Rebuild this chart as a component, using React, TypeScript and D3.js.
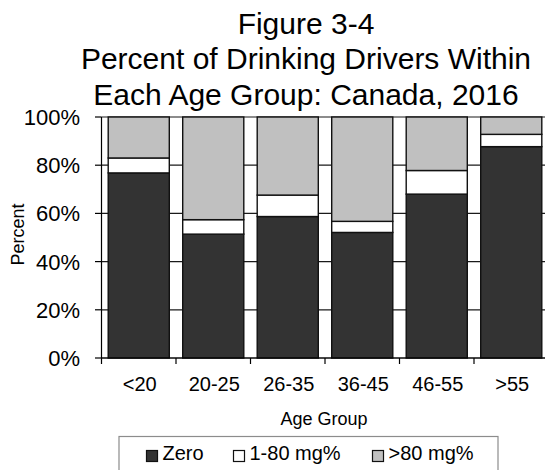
import React from "react";
import * as d3 from "d3";

const categories = ["<20", "20-25", "26-35", "36-45", "46-55", ">55"];
const zeroValues = [76.8, 51.4, 58.7, 52.1, 68.0, 87.7];
const lowValues = [6.2, 6.0, 8.9, 4.6, 9.8, 5.1];
const highValues = [17.0, 42.6, 32.4, 43.3, 22.2, 7.2];
const seriesNames = ["Zero", "1-80 mg%", ">80 mg%"];
const seriesKeys = ["zero", "low", "high"];
const seriesColors = ["#333333", "#ffffff", "#c0c0c0"];
const yTicks = [0, 20, 40, 60, 80, 100];
const titleLines = ["Figure 3-4", "Percent of Drinking Drivers Within", "Each Age Group: Canada, 2016"];

const FONT = "'Liberation Sans', Arial, sans-serif";

export default function App() {
  const W = 545;
  const H = 470;
  const left = 101.5;
  const right = 548.5;
  const top = 117;
  const bottom = 358;

  const x = d3.scaleBand<string>().domain(categories).range([left, right]).paddingInner(0.18).paddingOuter(0.09);
  const y = d3.scaleLinear().domain([0, 100]).range([bottom, top]);

  const rows = categories.map((c, i) => ({ cat: c, zero: zeroValues[i], low: lowValues[i], high: highValues[i] }));
  const stacked = d3.stack<any>().keys(seriesKeys)(rows);

  const step = x.step();
  const boundaries = d3.range(categories.length + 1).map((i) => left + i * step);

  const legendItems = [
    { sq: 146.5, tx: 162.5 },
    { sq: 233.5, tx: 249.5 },
    { sq: 372.5, tx: 388.5 },
  ];

  return (
    <svg width={W} height={H} style={{ position: "absolute", left: 0, top: 0, display: "block", background: "#fff" }}>
      <rect x={0} y={0} width={W} height={H} fill="#fff" />
      {titleLines.map((t, i) => (
        <text key={i} x={306} y={33.5 + i * 35.7} textAnchor="middle" fontFamily={FONT} fontSize={30} fill="#000">
          {t}
        </text>
      ))}
      {/* gridlines */}
      {yTicks.map((t) => (
        <line key={"g" + t} x1={left} x2={W + 10} y1={y(t)} y2={y(t)} stroke="#1a1a1a" strokeWidth={1.2} />
      ))}
      {/* bars */}
      {stacked.map((s, si) =>
        s.map((d: any, i: number) => (
          <rect
            key={si + "-" + i}
            x={x(categories[i])}
            y={y(d[1])}
            width={x.bandwidth()}
            height={y(d[0]) - y(d[1])}
            fill={seriesColors[si]}
            stroke="#111"
            strokeWidth={1.4}
          />
        ))
      )}
      {/* y axis */}
      <line x1={left} x2={left} y1={top} y2={bottom} stroke="#000" strokeWidth={1.2} />
      {yTicks.map((t) => (
        <g key={"yt" + t}>
          <line x1={left - 6.5} x2={left} y1={y(t)} y2={y(t)} stroke="#000" strokeWidth={1.2} />
          <text x={80} y={y(t)} dy="0.36em" textAnchor="end" fontFamily={FONT} fontSize={22} fill="#000">
            {t + "%"}
          </text>
        </g>
      ))}
      {/* x axis */}
      <line x1={left} x2={W + 10} y1={bottom} y2={bottom} stroke="#000" strokeWidth={1.2} />
      {boundaries.map((b, i) => (
        <line key={"xt" + i} x1={b} x2={b} y1={bottom} y2={bottom + 6} stroke="#000" strokeWidth={1.2} />
      ))}
      {categories.map((c) => (
        <text key={"xl" + c} x={(x(c) as number) + x.bandwidth() / 2 + 1} y={390.5} textAnchor="middle" fontFamily={FONT} fontSize={20} fill="#000">
          {c}
        </text>
      ))}
      <text x={324} y={425} textAnchor="middle" fontFamily={FONT} fontSize={18} fill="#000">
        Age Group
      </text>
      <text transform={`translate(24,${(top + bottom) / 2 - 3}) rotate(-90)`} textAnchor="middle" fontFamily={FONT} fontSize={18} fill="#000">
        Percent
      </text>
      {/* legend */}
      <rect x={119} y={436.5} width={379} height={50} fill="#fff" stroke="#8c8c8c" strokeWidth={1.2} />
      {seriesNames.map((n, i) => (
        <g key={"lg" + i}>
          <rect x={legendItems[i].sq} y={450.5} width={11} height={11} fill={seriesColors[i]} stroke="#111" strokeWidth={1.2} />
          <text x={legendItems[i].tx} y={460} fontFamily={FONT} fontSize={20} fill="#000">
            {n}
          </text>
        </g>
      ))}
    </svg>
  );
}
